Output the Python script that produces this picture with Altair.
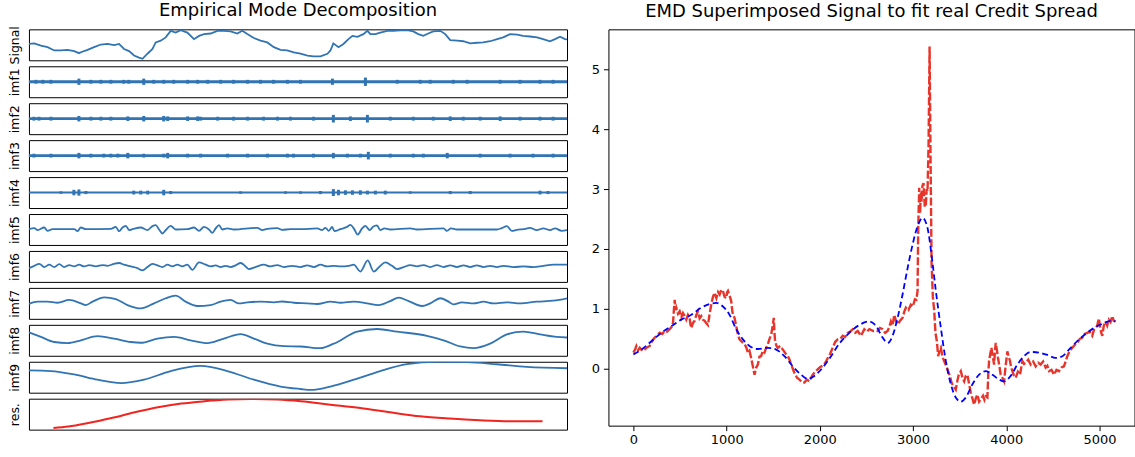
import altair as alt
import pandas as pd

# ---------------- data ----------------
X_LAST = 5170  # last sample index

sig_t = [0, 51, 115, 179, 243, 307, 371, 435, 482, 499, 563, 626, 691, 755, 818, 866, 914, 962, 1010, 1058,
         1091, 1139, 1187, 1218, 1266, 1314, 1362, 1410, 1458, 1522, 1586, 1634, 1682, 1746, 1810, 1873, 1938, 2002, 2050, 2098,
         2161, 2225, 2290, 2353, 2417, 2481, 2545, 2609, 2676, 2734, 2801, 2868, 2897, 2925, 2974, 3022, 3070, 3108, 3156, 3213,
         3252, 3281, 3329, 3376, 3444, 3501, 3568, 3635, 3693, 3741, 3789, 3837, 3885, 3952, 4000, 4048, 4115, 4173, 4240, 4307,
         4364, 4432, 4499, 4556, 4623, 4691, 4748, 4815, 4882, 4940, 5007, 5055, 5103, 5151, 5170]
sig_v = [0.53, 0.55, 0.47, 0.42, 0.31, 0.31, 0.33, 0.29, 0.22, 0.25, 0.33, 0.42, 0.51, 0.53, 0.49, 0.53, 0.36, 0.29, 0.14, 0.07,
         0.03, 0.2, 0.36, 0.58, 0.64, 0.75, 0.97, 0.91, 0.99, 0.91, 0.69, 0.8, 0.86, 0.88, 0.97, 0.97, 0.95, 0.88, 0.97, 0.86,
         0.73, 0.64, 0.58, 0.42, 0.33, 0.31, 0.25, 0.2, 0.14, 0.11, 0.11, 0.2, 0.31, 0.55, 0.42, 0.53, 0.69, 0.8, 0.77, 0.86,
         0.97, 0.86, 0.86, 0.91, 0.97, 0.97, 0.99, 0.99, 0.95, 0.86, 0.8, 0.88, 0.95, 0.97, 0.86, 0.66, 0.64, 0.62, 0.55, 0.57,
         0.58, 0.62, 0.69, 0.75, 0.86, 0.84, 0.8, 0.78, 0.75, 0.69, 0.62, 0.69, 0.77, 0.69, 0.68]

# high-frequency IMFs: burst positions and half-amplitudes
imf1_t = [67, 134, 211, 480, 595, 691, 787, 911, 959, 1103, 1199, 1295, 1391, 1525, 1621, 1717, 1842, 1966, 2101, 2225,
          2350, 2484, 2609, 2916, 3233, 3539, 3760, 3856, 4077, 4211, 4528, 4719, 4911, 5036]
imf1_a = [0.16, 0.16, 0.16, 0.26, 0.16, 0.16, 0.16, 0.16, 0.16, 0.26, 0.16, 0.16, 0.16, 0.16, 0.16, 0.16, 0.16, 0.16, 0.16, 0.16,
          0.16, 0.16, 0.16, 0.26, 0.35, 0.16, 0.16, 0.16, 0.16, 0.16, 0.16, 0.16, 0.16, 0.16]
imf2_t = [48, 96, 211, 480, 595, 691, 787, 950, 1103, 1295, 1333, 1525, 1621, 1650, 1813, 1966, 2101, 2254, 2388, 2513,
          2734, 2925, 3089, 3252, 3472, 3693, 3885, 4048, 4173, 4336, 4528, 4719, 4911, 5036]
imf2_a = [0.16, 0.16, 0.16, 0.23, 0.16, 0.16, 0.16, 0.19, 0.23, 0.23, 0.19, 0.19, 0.19, 0.16, 0.16, 0.16, 0.16, 0.16, 0.16, 0.16,
          0.16, 0.32, 0.19, 0.32, 0.16, 0.16, 0.16, 0.19, 0.16, 0.16, 0.19, 0.16, 0.16, 0.16]
imf3_t = [48, 211, 480, 595, 719, 787, 854, 950, 1103, 1295, 1333, 1525, 1650, 1909, 2101, 2292, 2484, 2542, 2734, 2925,
          3060, 3184, 3261, 3472, 3693, 3789, 4019, 4336, 4623, 4844, 5036]
imf3_a = [0.16, 0.16, 0.23, 0.16, 0.16, 0.16, 0.16, 0.23, 0.16, 0.16, 0.23, 0.16, 0.16, 0.16, 0.16, 0.16, 0.16, 0.16, 0.16, 0.23,
          0.16, 0.16, 0.32, 0.16, 0.16, 0.16, 0.23, 0.16, 0.16, 0.16, 0.16]
imf4_t = [307, 432, 480, 547, 1007, 1074, 1141, 1295, 1362, 2034, 2465, 2609, 2801, 2925, 2974, 3041, 3108, 3184, 3252, 3329,
          3424, 3664, 4048, 4240, 4911, 4988]
imf4_a = [0.1, 0.23, 0.26, 0.13, 0.16, 0.16, 0.16, 0.23, 0.13, 0.1, 0.1, 0.1, 0.13, 0.29, 0.23, 0.19, 0.19, 0.19, 0.16, 0.16,
          0.16, 0.1, 0.13, 0.13, 0.16, 0.13]

imf5_t = [0, 51, 83, 147, 179, 227, 435, 467, 499, 547, 787, 835, 866, 899, 931, 962, 995, 1074, 1139, 1187,
          1218, 1250, 1283, 1314, 1362, 1410, 1522, 1586, 1634, 1682, 1730, 1762, 1794, 1826, 1858, 1906, 1970, 2194, 2242, 2290,
          2386, 2433, 2513, 2609, 2769, 2817, 2849, 2881, 2913, 2935, 2993, 3057, 3089, 3121, 3159, 3201, 3233, 3274, 3306, 3345,
          3376, 3415, 3472, 3664, 3728, 3984, 4016, 4055, 4112, 4496, 4544, 4592, 4640, 4688, 4752, 4815, 4879, 4943, 5007, 5055,
          5119, 5170]
imf5_v = [0.02, 0.09, -0.04, 0.13, -0.09, 0.02, 0.02, -0.11, 0.13, 0.02, 0.04, 0.17, -0.11, 0.13, 0.24, -0.04, 0.02, 0.13, -0.04, 0.22,
          0.28, 0, -0.26, -0.04, 0.24, 0, 0.02, 0.13, -0.09, 0.17, 0, -0.22, 0.07, 0.28, 0, 0.07, 0, 0.11, -0.04, 0.04,
          0.09, -0.02, 0.02, 0.02, 0.07, -0.04, 0.11, -0.09, 0.17, -0.11, 0.02, 0.17, 0.3, 0.07, -0.33, 0.07, 0.24, -0.04, 0.17, 0.26,
          -0.04, 0.07, 0, 0.07, 0, 0.07, -0.09, 0.07, 0, 0, 0.09, 0.22, -0.09, -0.02, 0.02, 0.11, -0.04, 0.07, -0.04, 0.07,
          -0.09, -0.04]

imf6_t = [0, 51, 99, 147, 195, 243, 291, 339, 387, 435, 482, 531, 579, 643, 707, 755, 818, 866, 914, 978,
          1042, 1091, 1139, 1187, 1234, 1283, 1330, 1378, 1426, 1474, 1522, 1570, 1634, 1698, 1746, 1794, 1842, 1890, 1938, 1986,
          2034, 2082, 2113, 2177, 2257, 2321, 2386, 2449, 2529, 2609, 2673, 2737, 2801, 2865, 2929, 2993, 3073, 3121, 3185, 3255,
          3313, 3370, 3424, 3489, 3537, 3601, 3664, 3728, 3792, 3856, 3920, 3984, 4048, 4112, 4176, 4240, 4304, 4368, 4432, 4496,
          4560, 4656, 4752, 4848, 4944, 5040, 5170]
imf6_v = [-0.11, 0.04, 0.17, -0.04, 0.11, -0.04, 0.15, -0.04, 0.09, 0, 0.11, 0, 0.09, 0, 0.09, 0.04, 0.17, 0.22, 0.11, 0,
          -0.11, -0.26, -0.04, 0.17, 0.07, -0.04, 0.11, 0, 0.11, 0, 0.11, -0.22, 0.26, 0.11, 0, 0.07, -0.04, 0.04, -0.04, 0.07,
          0.22, 0, -0.17, -0.04, 0.11, 0, 0.09, -0.04, 0.04, -0.04, 0.07, -0.04, 0.11, 0, 0.04, 0, 0.04, 0.11, -0.33, 0.39,
          -0.33, 0, 0.26, 0.04, -0.17, -0.04, 0.09, 0, 0.09, -0.04, 0.09, -0.04, 0.07, -0.04, 0.07, -0.04, 0.07, -0.04, 0.04, -0.04,
          0.04, -0.04, 0, -0.04, 0.04, 0.11, 0.11]

imf7_t = [0, 83, 179, 275, 387, 499, 547, 611, 723, 835, 947, 1074, 1202, 1314, 1410, 1506, 1618, 1746, 1842, 1938,
          2018, 2098, 2225, 2353, 2433, 2545, 2673, 2769, 2897, 2993, 3121, 3249, 3360, 3472, 3552, 3648, 3776, 3856, 3952, 4032,
          4080, 4160, 4272, 4368, 4464, 4592, 4720, 4879, 5040, 5170]
imf7_v = [-0.04, 0.11, 0.11, 0.04, 0.22, 0, -0.11, 0.11, 0.39, 0.28, -0.11, -0.33, 0, 0.33, 0.5, 0.11, -0.17, -0.11, 0.11, 0.22,
          0, 0.07, 0.11, 0.07, 0.12, 0.04, 0, -0.04, 0.11, 0.04, 0.11, 0, -0.11, 0.15, 0.37, 0.15, -0.17, 0, 0.33, 0.11,
          -0.07, 0.07, 0, 0.11, 0, 0.07, 0, 0.11, 0.17, 0.33]

imf8_t = [0, 115, 243, 371, 499, 659, 818, 978, 1074, 1234, 1394, 1554, 1714, 1873, 2034, 2161, 2290, 2449, 2609, 2801,
          2929, 3153, 3345, 3537, 3824, 3984, 4144, 4272, 4432, 4592, 4752, 4911, 5071, 5170]
imf8_v = [0.51, 0.22, -0.11, -0.18, 0, 0.27, 0.11, -0.11, -0.16, 0.11, 0.22, 0, -0.18, 0.11, 0.4, 0.11, -0.22, -0.38, -0.4, -0.51,
          -0.22, 0.56, 0.73, 0.56, 0.29, 0, -0.4, -0.51, -0.22, 0.38, 0.56, 0.38, 0.22, 0.18]

imf9_t = [0, 211, 435, 659, 883, 1106, 1362, 1650, 1906, 2161, 2417, 2609, 2705, 2897, 3121, 3376, 3632, 3920, 4208, 4496,
          4784, 5170]
imf9_v = [0.44, 0.4, 0.18, -0.16, -0.38, -0.16, 0.4, 0.73, 0.4, -0.16, -0.6, -0.76, -0.82, -0.6, -0.16, 0.4, 0.84, 1.0, 0.98, 0.84,
          0.67, 0.58]

res_t = [0, 158, 368, 614, 859, 1105, 1350, 1595, 1842, 2087, 2368, 2613, 2929, 3244, 3560, 3876, 4192, 4507, 4857, 5170]
res_v = [-0.89, -0.8, -0.57, -0.24, 0.13, 0.46, 0.7, 0.85, 0.96, 1.0, 0.96, 0.85, 0.63, 0.41, 0.13, -0.13, -0.28, -0.39, -0.46, -0.46]

# right panel: real credit spread (red)
red_x = [0, 20, 32, 50, 68, 95, 121, 150, 175, 200,
         228, 255, 282, 310, 335, 360, 389, 410, 425, 435,
         443, 452, 460, 478, 496, 515, 532, 550, 567, 585,
         603, 612, 621, 640, 657, 675, 692, 710, 728, 746,
         764, 782, 800, 818, 835, 853, 871, 890, 908, 925,
         943, 960, 978, 996, 1005, 1014, 1032, 1049, 1058, 1067,
         1085, 1103, 1120, 1138, 1165, 1192, 1210, 1228, 1245, 1263,
         1280, 1299, 1317, 1335, 1352, 1370, 1388, 1406, 1424, 1442,
         1460, 1478, 1492, 1506, 1513, 1520, 1535, 1549, 1575, 1603,
         1630, 1656, 1675, 1692, 1710, 1727, 1755, 1781, 1808, 1835,
         1860, 1888, 1905, 1924, 1950, 1977, 2004, 2031, 2058, 2085,
         2110, 2138, 2165, 2192, 2220, 2245, 2270, 2299, 2325, 2352,
         2380, 2406, 2441, 2477, 2505, 2531, 2575, 2620, 2645, 2673,
         2700, 2727, 2745, 2762, 2780, 2798, 2816, 2834, 2860, 2887,
         2905, 2923, 2950, 2976, 2998, 3019, 3035, 3048, 3055, 3066,
         3075, 3084, 3091, 3100, 3112, 3125, 3137, 3146, 3155, 3166,
         3177, 3187, 3198, 3212, 3227, 3240, 3255, 3269, 3283, 3298,
         3315, 3333, 3355, 3376, 3395, 3412, 3435, 3458, 3475, 3490,
         3512, 3530, 3548, 3565, 3583, 3600, 3619, 3637, 3655, 3672,
         3690, 3708, 3726, 3750, 3765, 3779, 3797, 3806, 3815, 3828,
         3840, 3855, 3869, 3878, 3887, 3900, 3911, 3925, 3940, 3958,
         3976, 3993, 4011, 4025, 4040, 4052, 4065, 4083, 4101, 4124,
         4147, 4160, 4172, 4190, 4208, 4235, 4261, 4288, 4315, 4342,
         4368, 4395, 4422, 4440, 4458, 4485, 4511, 4538, 4565, 4592,
         4618, 4636, 4654, 4680, 4708, 4735, 4761, 4788, 4815, 4840,
         4868, 4895, 4922, 4940, 4957, 4975, 4993, 5010, 5029, 5046,
         5064, 5082, 5100, 5118, 5136, 5153, 5171]
red_y = [0.27, 0.33, 0.38, 0.31, 0.35, 0.30, 0.32, 0.36, 0.38, 0.46,
         0.52, 0.55, 0.60, 0.58, 0.63, 0.62, 0.66, 0.70, 0.77, 1.00,
         1.15, 0.98, 1.02, 0.92, 0.96, 0.86, 0.93, 0.88, 0.82, 0.90,
         0.85, 0.74, 0.68, 0.77, 0.80, 0.90, 0.96, 0.84, 0.88, 0.82,
         0.80, 0.76, 0.73, 0.92, 1.07, 1.20, 1.27, 1.18, 1.28, 1.24,
         1.32, 1.30, 1.20, 1.18, 1.28, 1.30, 1.22, 1.13, 1.00, 0.90,
         0.85, 0.71, 0.58, 0.49, 0.45, 0.41, 0.36, 0.27, 0.30, 0.18,
         0.05, -0.10, 0.02, 0.07, 0.20, 0.21, 0.30, 0.27, 0.35, 0.41,
         0.50, 0.57, 0.70, 0.85, 0.60, 0.46, 0.38, 0.35, 0.38, 0.32,
         0.26, 0.21, 0.15, 0.07, 0.00, -0.07, -0.15, -0.18, -0.23, -0.23,
         -0.18, -0.21, -0.15, -0.10, -0.05, -0.01, 0.03, 0.05, 0.10, 0.18,
         0.25, 0.35, 0.45, 0.49, 0.50, 0.55, 0.53, 0.60, 0.62, 0.66,
         0.60, 0.63, 0.55, 0.66, 0.62, 0.66, 0.63, 0.63, 0.68, 0.66,
         0.60, 0.63, 0.70, 0.79, 0.72, 0.90, 0.80, 0.74, 0.80, 0.85,
         0.95, 1.02, 0.98, 1.07, 1.04, 1.16, 1.15, 1.30, 2.35, 3.02,
         2.60, 2.95, 2.79, 3.05, 3.10, 2.70, 2.74, 3.00, 2.96, 3.74,
         5.38, 3.57, 1.79, 1.20, 0.96, 0.60, 0.46, 0.21, 0.30, 0.35,
         0.20, 0.13, 0.05, -0.04, -0.12, -0.23, -0.30, -0.35, -0.20, -0.10,
         -0.04, -0.15, -0.21, -0.12, -0.10, -0.25, -0.40, -0.50, -0.60, -0.50,
         -0.43, -0.55, -0.51, -0.45, -0.52, -0.46, -0.48, -0.10, 0.13, 0.25,
         0.35, 0.20, 0.07, 0.30, 0.43, 0.30, 0.18, 0.05, -0.10, -0.15,
         -0.21, 0.05, 0.29, 0.20, 0.13, 0.02, -0.04, -0.12, -0.15, -0.05,
         -0.10, 0.02, 0.13, 0.08, 0.10, 0.15, 0.07, 0.12, 0.04, 0.10,
         0.07, 0.12, 0.02, 0.05, -0.04, -0.02, -0.10, -0.02, -0.04, 0.02,
         0.04, 0.12, 0.21, 0.30, 0.35, 0.40, 0.43, 0.50, 0.52, 0.58,
         0.60, 0.62, 0.55, 0.65, 0.68, 0.72, 0.84, 0.65, 0.55, 0.72,
         0.79, 0.72, 0.82, 0.78, 0.88, 0.80, 0.79]

# EMD superimposed signal (blue)
blue_x = [0, 86, 193, 300, 407, 514, 621, 728, 817, 889, 960, 1031, 1103, 1174, 1245, 1335, 1442, 1531, 1620, 1710,
          1799, 1870, 1941, 2031, 2120, 2209, 2316, 2423, 2531, 2600, 2673, 2727, 2780, 2834, 2887, 2941, 2994, 3048, 3102, 3155,
          3198, 3244, 3298, 3351, 3405, 3458, 3512, 3565, 3637, 3708, 3779, 3851, 3922, 3976, 4047, 4119, 4190, 4261, 4351, 4440,
          4529, 4601, 4672, 4761, 4850, 4940, 5029, 5118, 5171]
blue_y = [0.24, 0.32, 0.46, 0.6, 0.71, 0.82, 0.9, 1.02, 1.08, 1.1, 1.04, 0.9, 0.66, 0.49, 0.38, 0.33, 0.35, 0.32, 0.21, 0.04,
          -0.1, -0.17, -0.12, 0.02, 0.21, 0.42, 0.6, 0.73, 0.79, 0.72, 0.52, 0.43, 0.55, 0.85, 1.24, 1.68, 2.07, 2.38, 2.52, 2.35,
          1.9, 1.3, 0.68, 0.13, -0.26, -0.48, -0.55, -0.48, -0.26, -0.1, -0.04, -0.1, -0.18, -0.21, -0.12, 0.07, 0.21, 0.28, 0.27, 0.23,
          0.18, 0.21, 0.32, 0.46, 0.58, 0.68, 0.75, 0.8, 0.79]

x_ticks = [0, 1000, 2000, 3000, 4000, 5000]
y_ticks = [0, 1, 2, 3, 4, 5]

# ---------------- styling ----------------
FONT = "DejaVu Sans"
BLUE = "#3174b3"
W_LEFT = 539
H_PANEL = 31


def yaxis(label):
    return alt.Axis(title=label, labels=False, ticks=False, domain=False, grid=False,
                    titlePadding=7, titleFontSize=12.5, titleFont=FONT,
                    titleFontWeight="normal", titleColor="black")


def xenc(domain):
    return alt.X("t:Q", scale=alt.Scale(domain=domain, nice=False, zero=False), axis=None)


def line_panel(t, v, label, ydom, interp="linear", color=BLUE, sw=1.8, xdom=None):
    df = pd.DataFrame({"t": t, "v": v})
    return alt.Chart(df).mark_line(color=color, strokeWidth=sw, interpolate=interp, clip=True).encode(
        x=xenc(xdom or [0, X_LAST]),
        y=alt.Y("v:Q", scale=alt.Scale(domain=ydom, nice=False, zero=False), axis=yaxis(label)),
    ).properties(width=W_LEFT, height=H_PANEL)


def band_panel(t, a, label, sw_base):
    base = pd.DataFrame({"t": [0, X_LAST], "v": [0.0, 0.0]})
    bursts = pd.DataFrame({"t": t, "lo": [-x for x in a], "hi": a})
    ysc = alt.Scale(domain=[-1.3, 1.3], nice=False, zero=False)
    ln = alt.Chart(base).mark_line(color=BLUE, strokeWidth=sw_base).encode(
        x=xenc([0, X_LAST]), y=alt.Y("v:Q", scale=ysc, axis=yaxis(label)))
    rl = alt.Chart(bursts).mark_rule(color=BLUE, strokeWidth=3).encode(
        x=xenc([0, X_LAST]), y=alt.Y("lo:Q", scale=ysc, axis=yaxis(label)), y2="hi:Q")
    return alt.layer(ln, rl).properties(width=W_LEFT, height=H_PANEL)


TITLE_SIZE = 18
signal_panel = line_panel(sig_t, sig_v, "Signal", [-0.02, 1.02]).properties(
    title=alt.TitleParams("Empirical Mode Decomposition", fontSize=TITLE_SIZE, font=FONT,
                          fontWeight="normal", color="black", anchor="middle", frame="group", offset=6))

panels = [
    signal_panel,
    band_panel(imf1_t, imf1_a, "imf1", 2.8),
    band_panel(imf2_t, imf2_a, "imf2", 2.8),
    band_panel(imf3_t, imf3_a, "imf3", 2.6),
    band_panel(imf4_t, imf4_a, "imf4", 2.0),
    line_panel(imf5_t, imf5_v, "imf5", [-1, 1], interp="monotone"),
    line_panel(imf6_t, imf6_v, "imf6", [-1, 1], interp="monotone"),
    line_panel(imf7_t, imf7_v, "imf7", [-1, 1], interp="monotone"),
    line_panel(imf8_t, imf8_v, "imf8", [-1, 1], interp="monotone"),
    line_panel(imf9_t, imf9_v, "imf9", [-1, 1], interp="monotone"),
    line_panel(res_t, res_v, "res.", [-1.0, 1.02], interp="monotone", color="#f2241f", sw=2,
               xdom=[-258.5, 5428.5]),
]

left = alt.vconcat(*panels, spacing=6, bounds="flush")

xs = alt.Scale(domain=[-268, 5375], nice=False, zero=False)
ys = alt.Scale(domain=[-0.95, 5.667], nice=False, zero=False)
x_axis = alt.Axis(values=x_ticks, format="d", title=None, labelFontSize=13, tickSize=5,
                  labelPadding=3, labelFlush=False)
y_axis = alt.Axis(values=y_ticks, format="d", title=None, labelFontSize=13, tickSize=5, labelPadding=4)

red = alt.Chart(pd.DataFrame({"x": red_x, "y": red_y})).mark_line(
    color="#e8352b", strokeWidth=2.4, strokeDash=[8, 2.5]).encode(
    x=alt.X("x:Q", scale=xs, axis=x_axis),
    y=alt.Y("y:Q", scale=ys, axis=y_axis),
)
blue = alt.Chart(pd.DataFrame({"x": blue_x, "y": blue_y})).mark_line(
    color="#0000ff", strokeWidth=1.8, strokeDash=[6, 3.5], interpolate="monotone").encode(
    x=alt.X("x:Q", scale=xs, axis=x_axis),
    y=alt.Y("y:Q", scale=ys, axis=y_axis),
)
right = alt.layer(red, blue).properties(
    width=527, height=397,
    title=alt.TitleParams("EMD Superimposed Signal to fit real Credit Spread", fontSize=TITLE_SIZE, font=FONT,
                          fontWeight="normal", color="black", anchor="middle", frame="group", offset=8))

chart = alt.hconcat(left, right, spacing=16.5).properties(
    padding={"left": 8, "top": 0, "right": 0, "bottom": 0}
).configure_view(stroke="black", strokeWidth=1).configure_axis(
    labelFont=FONT, labelColor="black", tickColor="black", tickWidth=1, domain=False, grid=False
).configure_title(font=FONT, fontWeight="normal", color="black")

chart.save("out.html", embed_options={"renderer": "svg", "actions": False})
